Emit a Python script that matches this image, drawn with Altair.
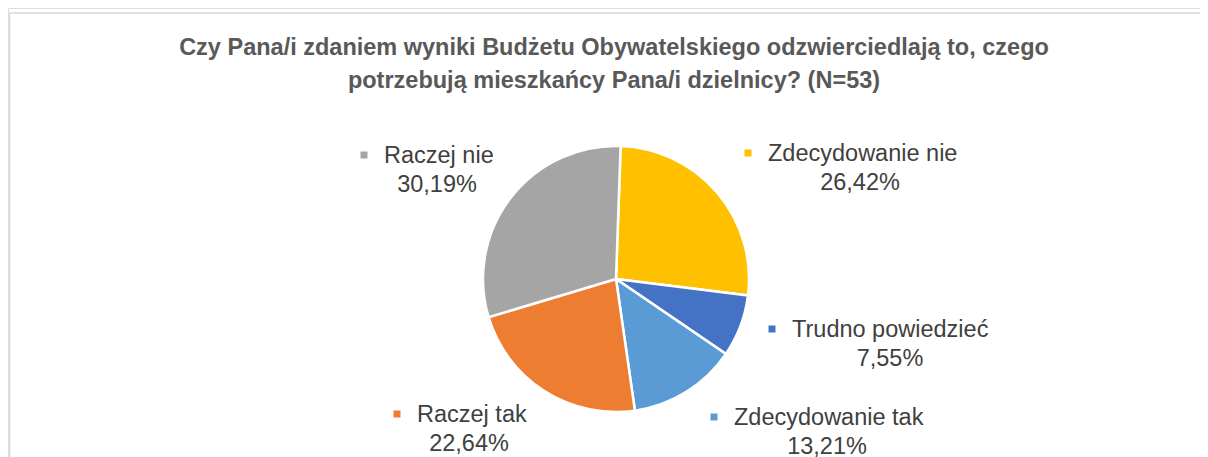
import math
import altair as alt
import pandas as pd

# ---- data ----
categories = ["Zdecydowanie nie", "Trudno powiedzieć", "Zdecydowanie tak", "Raczej tak", "Raczej nie"]
percents = [26.42, 7.55, 13.21, 22.64, 30.19]
colors = ["#FFC000", "#4472C4", "#5B9BD5", "#ED7D31", "#A5A5A5"]
title_lines = [
    "Czy Pana/i zdaniem wyniki Budżetu Obywatelskiego odzwierciedlają to, czego",
    "potrzebują mieszkańcy Pana/i dzielnicy? (N=53)",
]

# ---- layout (label placement, chart pixel coords) ----
label_sq_x = [740, 764, 706, 389, 356]
label_y1 = [153, 329, 417, 414, 155]
label_pct_cx = [852, 882, 819, 461, 429]
LINE_GAP = 29
NAME_OFFSET = 20

W, H = 1192, 449
CX, CY, R = 608, 271, 133
START = math.radians(2)

FONT = "Liberation Sans"
TXT = "#404040"
FS = 23.5

pie_df = pd.DataFrame({
    "cat": categories,
    "val": percents,
    "ord": list(range(len(categories))),
})

lab_df = pd.DataFrame({
    "cat": categories,
    "sq_x": label_sq_x,
    "sq_y": [y - 8 for y in label_y1],
    "name_x": [x + NAME_OFFSET for x in label_sq_x],
    "y1": label_y1,
    "y2": [y + LINE_GAP for y in label_y1],
    "pct_x": label_pct_cx,
    "pct": [f"{v:.2f}".replace(".", ",") + "%" for v in percents],
})

title_df = pd.DataFrame({"t": title_lines, "y": [47, 80]})

color_scale = alt.Scale(domain=categories, range=colors)

pie = alt.Chart(pie_df).mark_arc(outerRadius=R, stroke="white", strokeWidth=2.5).encode(
    theta=alt.Theta("val:Q", stack=True, scale=alt.Scale(range=[START, START + 2 * math.pi])),
    order=alt.Order("ord:Q"),
    color=alt.Color("cat:N", scale=color_scale, legend=None),
    x=alt.value(CX),
    y=alt.value(CY),
)

squares = alt.Chart(lab_df).mark_square(size=49, opacity=1, filled=True).encode(
    x=alt.X("sq_x:Q", scale=None),
    y=alt.Y("sq_y:Q", scale=None),
    color=alt.Color("cat:N", scale=color_scale, legend=None),
)

names = alt.Chart(lab_df).mark_text(
    align="left", baseline="alphabetic", font=FONT, fontSize=FS, color=TXT
).encode(
    x=alt.X("name_x:Q", scale=None),
    y=alt.Y("y1:Q", scale=None),
    text="cat:N",
)

pcts = alt.Chart(lab_df).mark_text(
    align="center", baseline="alphabetic", font=FONT, fontSize=FS, color=TXT
).encode(
    x=alt.X("pct_x:Q", scale=None),
    y=alt.Y("y2:Q", scale=None),
    text="pct:N",
)

title = alt.Chart(title_df).mark_text(
    align="center", baseline="alphabetic", font=FONT, fontSize=23.5, fontWeight="bold", color="#595959"
).encode(
    x=alt.value(606),
    y=alt.Y("y:Q", scale=None),
    text="t:N",
)

border_top = alt.Chart(pd.DataFrame({"a": [0]})).mark_rule(color="#D9D9D9", strokeWidth=1.5).encode(
    x=alt.value(1.5), x2=alt.value(W + 10), y=alt.value(5)
)
border_left = alt.Chart(pd.DataFrame({"a": [0]})).mark_rule(color="#D9D9D9", strokeWidth=1.5).encode(
    x=alt.value(1.5), y=alt.value(5), y2=alt.value(H + 10)
)

chart = alt.layer(border_top, border_left, title, pie, squares, names, pcts).properties(
    width=W, height=H, autosize=alt.AutoSizeParams(type="none"), padding=0
).configure_view(stroke=None).configure(background="white")

chart.save("out.html", embed_options={"renderer": "svg", "actions": False})
